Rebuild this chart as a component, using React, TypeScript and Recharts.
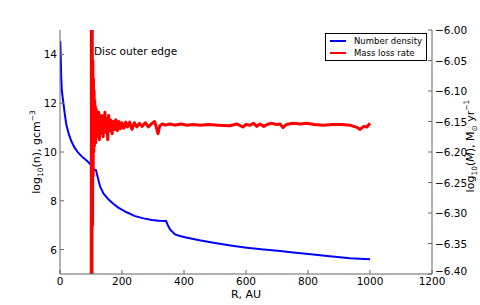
import React from 'react';
import { ComposedChart, Line, XAxis, YAxis, ReferenceLine, Legend } from 'recharts';

// number density, log10(n) against R (AU)
const densityR = [0, 1, 3, 4, 6, 10, 15, 20, 28, 36, 46, 58, 70, 80, 90, 98, 104, 110, 116, 122, 129, 140, 156, 170, 188, 215, 242, 270, 296, 320, 342, 348, 355, 371, 387, 403, 450, 495, 550, 602, 650, 710, 760, 817, 870, 935, 1000];
const densityLog = [14.55, 14.5, 13.6, 13.05, 12.5, 12.1, 11.6, 11.15, 10.75, 10.46, 10.2, 9.98, 9.82, 9.71, 9.6, 9.5, 9.35, 9.28, 9.26, 8.95, 8.6, 8.3, 8.06, 7.9, 7.72, 7.53, 7.37, 7.28, 7.21, 7.18, 7.17, 7.0, 6.83, 6.62, 6.56, 6.51, 6.38, 6.28, 6.17, 6.08, 6.01, 5.94, 5.87, 5.8, 5.73, 5.65, 5.6];

// mass loss rate, log10(Mdot) against R (AU)
const lossR = [101, 102, 103, 104, 105, 106, 107, 108, 109, 110, 111, 112, 113, 114, 115, 117, 119, 121, 123, 125, 127, 129, 131, 133, 135, 137, 139, 141, 143, 145, 148, 151, 154, 157, 160, 164, 168, 172, 176, 180, 185, 190, 195, 200, 206, 212, 218, 225, 232, 240, 248, 256, 265, 275, 285, 295, 305, 310, 316, 322, 330, 340, 355, 370, 390, 410, 430, 452, 480, 510, 548, 570, 590, 600, 613, 625, 635, 645, 658, 668, 680, 700, 710, 719, 730, 752, 775, 797, 820, 850, 880, 910, 935, 960, 968, 980, 990, 1000];
const lossLog = [-6.45, -5.95, -6.45, -5.98, -6.32, -6.05, -6.24, -6.08, -6.2, -6.1, -6.19, -6.115, -6.18, -6.125, -6.185, -6.13, -6.175, -6.14, -6.17, -6.135, -6.18, -6.145, -6.165, -6.14, -6.17, -6.15, -6.175, -6.14, -6.165, -6.135, -6.168, -6.145, -6.18, -6.14, -6.165, -6.148, -6.17, -6.15, -6.163, -6.147, -6.165, -6.15, -6.162, -6.152, -6.161, -6.151, -6.159, -6.151, -6.163, -6.152, -6.159, -6.153, -6.158, -6.152, -6.159, -6.154, -6.15, -6.158, -6.17, -6.157, -6.154, -6.156, -6.154, -6.156, -6.154, -6.156, -6.155, -6.156, -6.155, -6.156, -6.157, -6.154, -6.159, -6.155, -6.156, -6.153, -6.158, -6.154, -6.158, -6.155, -6.153, -6.155, -6.154, -6.16, -6.155, -6.153, -6.154, -6.153, -6.155, -6.156, -6.155, -6.155, -6.156, -6.16, -6.163, -6.158, -6.159, -6.153];

const xTicks = [0, 200, 400, 600, 800, 1000, 1200];
const leftTicks = [6, 8, 10, 12, 14];
const rightTicks = [-6.4, -6.35, -6.3, -6.25, -6.2, -6.15, -6.1, -6.05, -6.0];
const discEdge = 100;
const legendOrder = ['Number density', 'Mass loss rate'];

const densityData = densityR.map((r, i) => ({ r, n: densityLog[i] }));
const lossData = lossR.map((r, i) => ({ r, m: lossLog[i] }));

const FONT = 'DejaVu Sans, sans-serif';
const AXIS = '#666';
const TICK = 4;

const fmtRight = (v: number) => v.toFixed(2).replace('-', '\u2212');

const BottomTick = (props: any) => {
    const { x, y, payload } = props;
    return (
        <g>
            <line x1={x} y1={y} x2={x} y2={y - TICK} stroke={AXIS} />
            <text x={x} y={y + 11} textAnchor="middle" fontSize={10.5} fontFamily={FONT} fill="#000">
                {payload.value}
            </text>
        </g>
    );
};

const TopTick = (props: any) => {
    const { x, y } = props;
    return <line x1={x} y1={y} x2={x} y2={y + TICK} stroke={AXIS} />;
};

const LeftTick = (props: any) => {
    const { x, y, payload } = props;
    return (
        <g>
            <line x1={x} y1={y} x2={x + TICK} y2={y} stroke={AXIS} />
            <text x={x - 3} y={y + 4} textAnchor="end" fontSize={10.5} fontFamily={FONT} fill="#000">
                {payload.value}
            </text>
        </g>
    );
};

const RightTick = (props: any) => {
    const { x, y, payload } = props;
    // lowest label sits a little higher, as in the original
    const lift = payload.value <= -6.4 ? -3 : 0;
    return (
        <g>
            <line x1={x} y1={y} x2={x - TICK} y2={y} stroke={AXIS} />
            <text x={x + 3} y={y + 4 + lift} textAnchor="start" fontSize={10.5} fontFamily={FONT} fill="#000">
                {fmtRight(payload.value)}
            </text>
        </g>
    );
};

const LeftLabel = () => (
    <text transform="translate(40,152) rotate(-90)" textAnchor="middle" fontSize={11} fontFamily={FONT} fill="#000">
        log<tspan fontSize={7.5} dy={3}>10</tspan>
        <tspan dy={-3}>(n), gcm</tspan>
        <tspan fontSize={7.5} dy={-5}>{'\u22123'}</tspan>
    </text>
);

const RightLabel = () => (
    <text transform="translate(474,146) rotate(-90)" textAnchor="middle" fontSize={11} fontFamily={FONT} fill="#000">
        log<tspan fontSize={7.5} dy={3}>10</tspan>
        <tspan dy={-3}>(</tspan>
        <tspan fontStyle="italic">{'\u1E40'}</tspan>
        <tspan>), M</tspan>
        <tspan fontSize={7.5} dy={3}>{'\u2299'}</tspan>
        <tspan dy={-3}> yr</tspan>
        <tspan fontSize={7.5} dy={-5}>{'\u22121'}</tspan>
    </text>
);

const BottomLabel = () => (
    <text x={246} y={298} textAnchor="middle" fontSize={11} fontFamily={FONT} fill="#000">
        R, AU
    </text>
);

const EdgeLabel = (props: any) => {
    const vb = props.viewBox || { x: 91, y: 30 };
    return (
        <text x={vb.x + 3} y={vb.y + 25} fontSize={10.5} fontFamily={FONT} fill="#000">
            Disc outer edge
        </text>
    );
};

const LegendBox = (props: any) => {
    const items = [...(props.payload || [])].sort(
        (a: any, b: any) => legendOrder.indexOf(a.value) - legendOrder.indexOf(b.value)
    );
    return (
        <div style={{ border: '1px solid #000', background: '#fff', padding: '1px 3px 1px 4px', fontFamily: FONT, fontSize: 8.5, lineHeight: '12px' }}>
            {items.map((it: any) => (
                <div key={it.value} style={{ display: 'flex', alignItems: 'center' }}>
                    <span style={{ display: 'inline-block', width: 16, height: 2, background: it.color, marginRight: 8 }} />
                    <span>{it.value}</span>
                </div>
            ))}
        </div>
    );
};

export default function App() {
    return (
        <div style={{ position: 'absolute', left: 0, top: 0, width: 480, height: 305, background: '#fff' }}>
            <ComposedChart width={480} height={305} margin={{ top: 30, right: 0, bottom: 0, left: 0 }}>
                <XAxis
                    xAxisId="bottom"
                    dataKey="r"
                    type="number"
                    domain={[0, 1200]}
                    ticks={xTicks}
                    allowDataOverflow
                    height={31}
                    tickSize={0}
                    tickMargin={0}
                    tickLine={false}
                    stroke={AXIS}
                    tick={<BottomTick />}
                    label={<BottomLabel />}
                />
                <XAxis
                    xAxisId="top"
                    orientation="top"
                    dataKey="r"
                    type="number"
                    domain={[0, 1200]}
                    ticks={xTicks}
                    height={0}
                    tickSize={0}
                    tickMargin={0}
                    tickLine={false}
                    stroke={AXIS}
                    tick={<TopTick />}
                />
                <YAxis
                    yAxisId="left"
                    type="number"
                    domain={[5, 15]}
                    ticks={leftTicks}
                    allowDataOverflow
                    width={60}
                    tickSize={0}
                    tickMargin={0}
                    tickLine={false}
                    stroke={AXIS}
                    tick={<LeftTick />}
                    label={<LeftLabel />}
                />
                <YAxis
                    yAxisId="right"
                    orientation="right"
                    type="number"
                    domain={[-6.4, -6.0]}
                    ticks={rightTicks}
                    allowDataOverflow
                    width={48}
                    tickSize={0}
                    tickMargin={0}
                    tickLine={false}
                    stroke={AXIS}
                    tick={<RightTick />}
                    label={<RightLabel />}
                />
                <ReferenceLine
                    x={discEdge}
                    xAxisId="bottom"
                    yAxisId="left"
                    stroke="#000"
                    strokeWidth={2.2}
                    label={<EdgeLabel />}
                />
                <Line
                    data={densityData}
                    xAxisId="bottom"
                    yAxisId="left"
                    dataKey="n"
                    name="Number density"
                    stroke="#0000ff"
                    strokeWidth={2}
                    dot={false}
                    type="linear"
                    isAnimationActive={false}
                />
                <Line
                    data={lossData}
                    xAxisId="bottom"
                    yAxisId="right"
                    dataKey="m"
                    name="Mass loss rate"
                    stroke="#ff0000"
                    strokeWidth={3}
                    strokeLinejoin="round"
                    dot={false}
                    type="linear"
                    isAnimationActive={false}
                />
                <Legend
                    layout="horizontal"
                    verticalAlign="middle"
                    align="center"
                    content={<LegendBox />}
                    wrapperStyle={{ position: 'absolute', left: 325, top: 33, width: 102, height: 26 }}
                />
            </ComposedChart>
        </div>
    );
}
